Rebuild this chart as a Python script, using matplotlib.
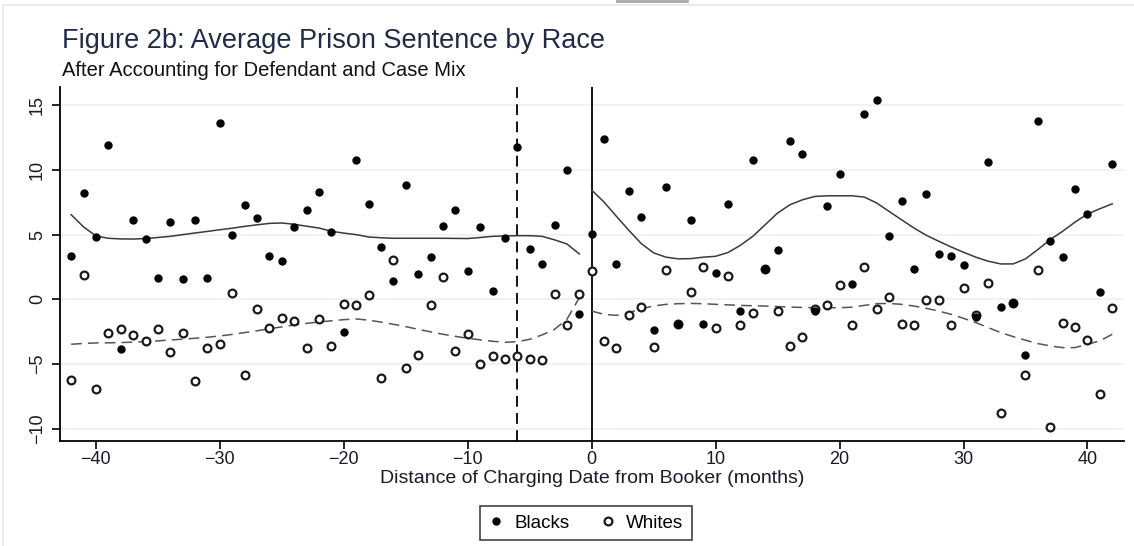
"""
Figure 2b: Average Prison Sentence by Race
(after accounting for defendant and case mix)
"""

import matplotlib.pyplot as plt
from matplotlib.lines import Line2D
from matplotlib.patches import Rectangle

plt.rcParams['font.family'] = ['Liberation Sans', 'DejaVu Sans']

# -----------------------------
# Data
# -----------------------------
months = list(range(-42, 43))

blacks = [3.33, 8.25, 4.8, 11.9, -3.85, 6.1, 4.67, 1.67, 5.97, 1.6,
          6.13, 1.64, 13.6, 4.95, 7.3, 6.28, 3.33, 2.95, 5.59, 6.92,
          8.28, 5.22, -2.49, 10.8, 7.36, 4.05, 1.46, 8.8, 1.97, 3.26,
          5.69, 6.9, 2.23, 5.56, 0.67, 4.74, 11.8, 3.87, 2.74, 5.72,
          10.0, -1.15, 5.08, 12.4, 2.77, 8.36, 6.33, -2.36, 8.69, -1.92,
          6.15, -1.92, 2.05, 7.38, -0.9, 10.8, 2.36, 3.8, 12.2, 11.26,
          -0.9, 7.23, 9.69, 1.2, 14.3, 15.36, 4.9, 7.6, 2.38, 8.15,
          3.54, 3.33, 2.62, -1.33, 10.64, -0.59, -0.31, -4.26, 13.8, 4.54,
          3.26, 8.54, 6.62, 0.56, 10.44]

whites = [-6.23, 1.87, -6.92, -2.6, -2.26, -2.74, -3.2, -2.3, -4.03, -2.56,
          -6.33, -3.72, -3.46, 0.49, -5.87, -0.72, -2.23, -1.41, -1.67, -3.72,
          -1.54, -3.56, -0.38, -0.44, 0.31, -6.03, 3.08, -5.33, -4.26, -0.44,
          1.72, -3.97, -2.64, -5.0, -4.38, -4.59, -4.36, -4.59, -4.69, 0.44,
          -1.97, 0.44, 2.18, -3.2, -3.77, -1.23, -0.56, -3.67, 2.28, -1.92,
          0.54, 2.49, -2.18, 1.77, -1.97, -1.05, 2.36, -0.87, -3.56, -2.9,
          -0.72, -0.44, 1.13, -1.97, 2.51, -0.77, 0.15, -1.9, -1.97, -0.05,
          -0.05, -1.97, 0.92, -1.2, 1.26, -8.74, -0.3, -5.87, 2.28, -9.82,
          -1.79, -2.15, -3.15, -7.31, -0.69]

# smoothed fits (before / after Booker)
months_pre = list(range(-42, 0))
months_post = list(range(0, 43))

blacks_fit_pre = [6.54, 5.6, 4.9, 4.72, 4.67, 4.66, 4.7, 4.78, 4.87, 5.0,
                  5.13, 5.25, 5.38, 5.5, 5.64, 5.76, 5.87, 5.9, 5.8, 5.65,
                  5.51, 5.26, 5.12, 5.0, 4.82, 4.76, 4.72, 4.72, 4.72, 4.72,
                  4.72, 4.71, 4.7, 4.78, 4.87, 4.9, 4.92, 4.92, 4.87, 4.6,
                  4.28, 3.51]
whites_fit_pre = [-3.46, -3.4, -3.36, -3.35, -3.33, -3.3, -3.26, -3.2, -3.13, -3.07,
                  -3.0, -2.92, -2.82, -2.7, -2.56, -2.42, -2.26, -2.12, -1.97, -1.85,
                  -1.74, -1.65, -1.56, -1.51, -1.6, -1.75, -1.92, -2.1, -2.31, -2.5,
                  -2.69, -2.85, -3.0, -3.12, -3.23, -3.31, -3.26, -3.08, -2.74, -2.31,
                  -1.54, 0.13]
blacks_fit_post = [8.44, 7.51, 6.41, 5.33, 4.31, 3.59, 3.26, 3.13, 3.15, 3.26,
                   3.33, 3.62, 4.18, 4.87, 5.77, 6.67, 7.31, 7.69, 7.95, 8.0,
                   8.0, 8.0, 7.9, 7.44, 6.79, 6.15, 5.51, 4.95, 4.49, 4.05,
                   3.64, 3.26, 2.95, 2.74, 2.74, 3.13, 3.85, 4.62, 5.26, 5.97,
                   6.59, 7.0, 7.38]
whites_fit_post = [-0.9, -1.15, -1.23, -1.03, -0.72, -0.51, -0.38, -0.33, -0.31, -0.33,
                   -0.38, -0.42, -0.46, -0.49, -0.51, -0.55, -0.59, -0.62, -0.64, -0.64,
                   -0.64, -0.6, -0.46, -0.33, -0.31, -0.38, -0.51, -0.69, -0.9, -1.15,
                   -1.46, -1.79, -2.18, -2.56, -2.87, -3.15, -3.41, -3.59, -3.72, -3.72,
                   -3.46, -3.2, -2.69]

booker_month = 0
cutoff_month = -6

x_ticks = [-40, -30, -20, -10, 0, 10, 20, 30, 40]
y_ticks = [-10, -5, 0, 5, 10, 15]

# -----------------------------
# Figure
# -----------------------------
fig = plt.figure(figsize=(11.34, 5.46), dpi=100)
ax = fig.add_axes([0.0529, 0.1923, 0.9383, 0.6484])

# screenshot frame bits
fig.add_artist(Rectangle((0.0025, -0.01), 1.2, 1.0 - 0.0092 + 0.01, transform=fig.transFigure,
                         fill=False, edgecolor='#e4ebf0', linewidth=1.2))
fig.add_artist(Line2D([617 / 1134, 687 / 1134], [0.998, 0.998], transform=fig.transFigure,
                      color='#a8a8a8', linewidth=2))

ax.set_xlim(-42.9, 42.95)
ax.set_ylim(-10.93, 16.4)

for yt in y_ticks:
    ax.axhline(yt, color='#eaf1f5', linewidth=1.2, zorder=0)

# fits
ax.plot(months_pre, blacks_fit_pre, color='#3a3a3a', linewidth=1.1, zorder=2)
ax.plot(months_post, blacks_fit_post, color='#3a3a3a', linewidth=1.1, zorder=2)
ax.plot(months_pre, whites_fit_pre, color='#555555', linewidth=1.1,
        dashes=(7, 4), zorder=2)
ax.plot(months_post, whites_fit_post, color='#555555', linewidth=1.1,
        dashes=(7, 4), zorder=2)

# reference lines
ax.axvline(booker_month, color='black', linewidth=1.3, zorder=1)
ax.axvline(cutoff_month, color='black', linewidth=1.3, dashes=(6, 3.5), zorder=1)

# points
ax.plot(months, whites, linestyle='none', marker='o', markersize=5.6,
        markerfacecolor='white', markeredgecolor='#1a1a1a', markeredgewidth=1.6,
        zorder=3)
ax.plot(months, blacks, linestyle='none', marker='o', markersize=5,
        markerfacecolor='black', markeredgecolor='black', zorder=4)

for side in ['top', 'right']:
    ax.spines[side].set_visible(False)
ax.spines['left'].set_linewidth(1.3)
ax.spines['bottom'].set_linewidth(1.3)

ax.set_xticks(x_ticks)
ax.set_xticklabels([str(t).replace('-', '\u2212') for t in x_ticks])
ax.set_yticks(y_ticks)
ax.set_yticklabels([str(t).replace('-', '\u2212') for t in y_ticks],
                   rotation=90, va='center')
ax.tick_params(axis='both', labelsize=13, length=6, width=1.2,
               colors='black', labelcolor='#1a1a2a')
ax.tick_params(axis='y', pad=4)
ax.tick_params(axis='x', pad=1)

ax.set_xlabel('Distance of Charging Date from Booker (months)', fontsize=14,
              color='#1a1a2a', labelpad=1.5)

# titles
fig.text(62 / 1134, 1 - 48 / 546, 'Figure 2b: Average Prison Sentence by Race',
         fontsize=19.5, color='#1e2b4a', ha='left', va='baseline')
fig.text(62 / 1134, 1 - 76 / 546, 'After Accounting for Defendant and Case Mix',
         fontsize=14.5, color='#111111', ha='left', va='baseline')

# legend
handles = [
    Line2D([], [], linestyle='none', marker='o', markersize=5,
           markerfacecolor='black', markeredgecolor='black'),
    Line2D([], [], linestyle='none', marker='o', markersize=5.6,
           markerfacecolor='white', markeredgecolor='#1a1a1a', markeredgewidth=1.6),
]
leg = fig.legend(handles, ['Blacks', 'Whites'], loc='center',
                 bbox_to_anchor=(586 / 1134, 1 - 523 / 546), ncol=2,
                 fontsize=13.5, frameon=True, fancybox=False, handlelength=0.8,
                 handletextpad=0.6, columnspacing=1.6, borderpad=0.45)
leg.get_frame().set_edgecolor('black')
leg.get_frame().set_linewidth(1.1)

plt.savefig('out.png', dpi=100)
